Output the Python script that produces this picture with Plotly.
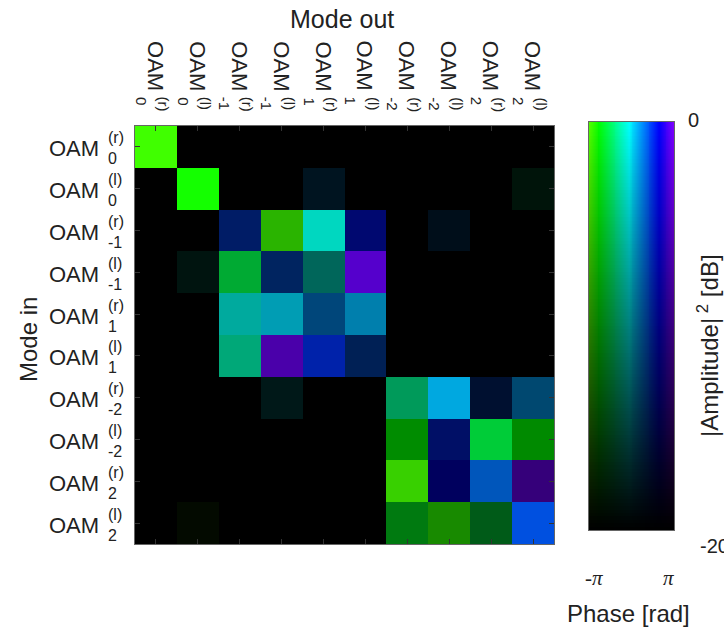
import colorsys
import numpy as np
import plotly.graph_objects as go

# ---------------- data ----------------
mode_index = ["0", "0", "-1", "-1", "1", "1", "-2", "-2", "2", "2"]
mode_pol = ["(r)", "(l)", "(r)", "(l)", "(r)", "(l)", "(r)", "(l)", "(r)", "(l)"]

# |Amplitude|^2 in dB (rows: mode in, cols: mode out); -20 = floor (black)
power_db = [
    [0.0, -20, -20, -20, -20, -20, -20, -20, -20, -20],
    [-20, 0.0, -20, -20, -17.5, -20, -20, -20, -20, -18.4],
    [-20, -20, -12.0, -5.9, -3.1, -11.2, -20, -18.0, -20, -20],
    [-20, -18.4, -6.7, -12.5, -12.0, -4.0, -20, -20, -20, -20],
    [-20, -20, -6.7, -5.9, -10.4, -6.4, -20, -20, -20, -20],
    [-20, -20, -6.8, -6.7, -6.7, -13.3, -20, -20, -20, -20],
    [-20, -20, -20, -18.1, -20, -20, -7.9, -2.4, -16.2, -11.2],
    [-20, -20, -20, -20, -20, -20, -9.0, -12.0, -4.0, -9.2],
    [-20, -20, -20, -20, -20, -20, -3.7, -12.6, -5.3, -10.4],
    [-20, -19.2, -20, -20, -20, -20, -10.4, -9.2, -12.9, -2.4],
]
# phase in rad
phase_rad = [
    [-2.96, 0, 0, 0, 0, 0, 0, 0, 0, 0],
    [0, -2.58, 0, 0, 0.65, 0, 0, 0, 0, -1.29],
    [0, 0, 1.42, -2.92, -0.43, 1.87, 0, 0.84, 0, 0],
    [0, -0.74, -1.74, 1.20, -0.45, 2.96, 0, 0, 0, 0],
    [0, 0, -0.33, 0.09, 0.76, 0.41, 0, 0, 0, 0],
    [0, 0, -0.82, 3.00, 1.59, 1.20, 0, 0, 0, 0],
    [0, 0, 0, -0.18, 0, 0, -1.11, 0.37, 1.29, 0.60],
    [0, 0, 0, 0, 0, 0, -2.40, 1.71, -1.79, -2.40],
    [0, 0, 0, 0, 0, 0, -3.00, 2.03, 1.02, 3.00],
    [0, -3.14, 0, 0, 0, 0, -2.11, -2.79, -1.81, 1.24],
]

DB_MIN, DB_MAX = -20.0, 0.0
HUE_LO, HUE_HI = 100.0, 270.0


def cmap(phase, db):
    frac = (np.clip(phase, -np.pi, np.pi) + np.pi) / (2 * np.pi)
    hue = (HUE_LO + frac * (HUE_HI - HUE_LO)) / 360.0
    val = float(np.clip((db - DB_MIN) / (DB_MAX - DB_MIN), 0, 1))
    r, g, b = colorsys.hsv_to_rgb(hue, 1.0, val)
    return [r * 255, g * 255, b * 255]


n = len(mode_index)
img = [[cmap(phase_rad[i][j], power_db[i][j]) for j in range(n)] for i in range(n)]

# 2D colour legend
NX, NY = 90, 120
cb_dx = 2 * np.pi / NX
cb_dy = (DB_MAX - DB_MIN) / NY
cb_img = [[cmap(-np.pi + (j + 0.5) * cb_dx, DB_MAX - (i + 0.5) * cb_dy)
           for j in range(NX)] for i in range(NY)]

W, H = 724, 633
FONT = "Liberation Sans, Arial, sans-serif"
SERIF = "Liberation Serif, Times New Roman, serif"
TXT = "#222222"


def px(x):
    return x / W


def py(y):
    return 1 - y / H


fig = go.Figure()
fig.add_trace(go.Image(z=img, x0=0, dx=1, y0=0, dy=1, xaxis="x", yaxis="y",
                       hoverinfo="skip"))
fig.add_trace(go.Image(z=cb_img, x0=-np.pi + cb_dx / 2, dx=cb_dx,
                       y0=cb_dy / 2, dy=cb_dy, xaxis="x2", yaxis="y2",
                       hoverinfo="skip"))

axis_common = dict(showgrid=False, zeroline=False, showticklabels=False,
                   ticks="inside", ticklen=5, tickwidth=1, tickcolor="#333",
                   showline=True, linecolor="#666", linewidth=1, mirror="ticks")

fig.update_layout(
    width=W, height=H,
    margin=dict(l=0, r=0, t=0, b=0),
    paper_bgcolor="white", plot_bgcolor="white",
    showlegend=False,
    xaxis=dict(domain=[px(135), px(554)], range=[-0.5, n - 0.5],
               tickvals=list(range(n)), anchor="y", **axis_common),
    yaxis=dict(domain=[py(544), py(126)], range=[n - 0.5, -0.5],
               tickvals=list(range(n)), anchor="x", scaleanchor=False,
               **axis_common),
    xaxis2=dict(domain=[px(589), px(674)], range=[-np.pi, np.pi],
                tickvals=[-np.pi, np.pi], anchor="y2", **axis_common),
    yaxis2=dict(domain=[py(530), py(122)], range=[DB_MAX - DB_MIN, 0],
                tickvals=[], anchor="x2", scaleanchor=False,
                **{k: v for k, v in axis_common.items() if k != "ticks"},
                ticks=""),
)

ann = []


def add(text, x, y, size, xref="paper", yref="paper", family=FONT,
        xanchor="center", yanchor="middle", **kw):
    ann.append(dict(text=text, x=x, y=y, xref=xref, yref=yref, showarrow=False,
                    xanchor=xanchor, yanchor=yanchor,
                    font=dict(family=family, size=size, color=TXT), **kw))


add("Mode out", px(342), py(19), 25)
add("Mode in", px(28), py(340), 24, textangle=-90)

for i in range(n):
    # row labels (mode in)
    add("OAM", px(101), i, 22, yref="y", xanchor="right", yshift=-2)
    add(mode_pol[i], px(106), i, 16, yref="y", xanchor="left", yshift=9)
    add(mode_index[i], px(106), i, 16, yref="y", xanchor="left", yshift=-12)
    # column labels (mode out), rotated
    add("OAM", i, py(66), 22, xref="x", textangle=90, xshift=-1)
    add(mode_pol[i], i, py(95), 15, xref="x", textangle=90, xshift=8,
        yanchor="top")
    add(mode_index[i], i, py(95), 15, xref="x", textangle=90, xshift=-15,
        yanchor="top")

add("0", px(686), py(120), 20, xanchor="left")
add("-20", px(698), py(546), 20, xanchor="left")
add("|Amplitude|<sup>\u00a02</sup>\u00a0[dB]", px(708), py(346), 24, textangle=-90)
add("-<i>π</i>", px(594), py(578), 21, family=SERIF)
add("<i>π</i>", px(668), py(578), 21, family=SERIF)
add("Phase [rad]", px(628), py(613), 24)

fig.update_layout(annotations=ann)
fig.write_html("out.html", config={"displayModeBar": False},
               post_script="document.body.style.margin='0px';")
